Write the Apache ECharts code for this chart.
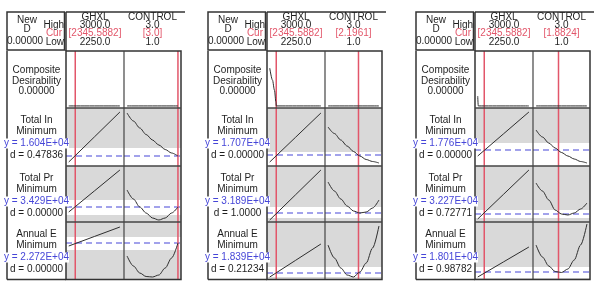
<!DOCTYPE html>
<html>
<head>
<meta charset="utf-8">
<script src="https://cdn.jsdelivr.net/npm/echarts@6/dist/echarts.min.js"></script>
<style>
html, body { margin: 0; padding: 0; background: #fff; }
#chart { width: 599px; height: 284px; }
</style>
</head>
<body>
<div id="chart"></div>
<script>
// factor settings
var factorNames = ['GHXL', 'CONTROL'];
var factorHigh = ['3000.0', '3.0'];
var factorLow = ['2250.0', '1.0'];
var curGHXL = [2345.5882, 2345.5882, 2345.5882];
var curCONTROL = [3.0, 2.1961, 1.8824];
var curGHXLText = ['[2345.5882]', '[2345.5882]', '[2345.5882]'];
var curCONTROLText = ['[3.0]', '[2.1961]', '[1.8824]'];
var compositeD = ['0.00000', '0.00000', '0.00000'];

// responses (rows), one entry per panel
var responseNames = ['Total In', 'Total Pr', 'Annual E'];
var yPred = [[16040, 34290, 22720], [17070, 31890, 18390], [17760, 32270, 18010]];
var yPredText = [['1.604E+04', '3.429E+04', '2.272E+04'], ['1.707E+04', '3.189E+04', '1.839E+04'], ['1.776E+04', '3.227E+04', '1.801E+04']];
var dText = [['0.47836', '0.00000', '0.00000'], ['0.00000', '1.0000', '0.21234'], ['0.00000', '0.72771', '0.98782']];
var yAxisMin = [[15040, 32790, 19120], [15970, 30990, 17790], [16160, 31470, 17310]];
var yAxisMax = [[20840, 38390, 24820], [21770, 36590, 23490], [21960, 37070, 23010]];
var whiteBand = [
  [[15040, 16840], [33490, 34990], [22020, 23320]],
  [[15970, 17370], [31390, 32490], [17990, 18990]],
  [[16160, 18460], [31870, 32670], [17410, 18510]]
];

// curve samples
var ghxlX = [2250, 2625, 3000];
var controlX = [1, 1.25, 1.5, 1.75, 2, 2.25, 2.5, 2.75, 3];
var totalInGHXL = [[15440, 17940, 20440], [16370, 18820, 21270], [17160, 19360, 21560]];
var totalInCONTROL = [
  [20340, 19540, 18840, 18190, 17640, 17140, 16690, 16340, 16040],
  [19870, 19220, 18570, 17970, 17420, 16970, 16620, 16420, 16270],
  [19760, 19060, 18460, 17960, 17510, 17160, 16860, 16610, 16460]
];
var totalPrGHXL = [[33790, 35890, 37990], [31190, 33690, 36190], [31770, 34220, 36670]];
var totalPrCONTROL = [
  [35990, 35090, 34290, 33690, 33190, 32990, 33190, 33690, 34290],
  [34990, 34090, 33290, 32590, 32090, 31890, 31990, 32390, 33190],
  [35370, 34570, 33670, 32670, 32270, 32170, 32370, 32770, 33370]
];
var annualEGHXL = [[22420, 23370, 24320], [17990, 19640, 21290], [17510, 19010, 20510]];
var annualECONTROL = [
  [21420, 20420, 19720, 19370, 19320, 19520, 20220, 21220, 22720],
  [21190, 19890, 18890, 18190, 17990, 18490, 19390, 20890, 23090],
  [20710, 19510, 18610, 18060, 17960, 18310, 19210, 20710, 22810]
];
var compGHXL = [
  [[2250, 0], [3000, 0]],
  [[2250, 0.73], [2290, 0.5], [2320, 0.3], [2340, 0.08], [2346, 0], [3000, 0]],
  [[2250, 0.19], [2258, 0], [3000, 0]]
];
var compCONTROL = [
  [[1, 0], [3, 0]],
  [[1, 0], [3, 0]],
  [[1, 0], [3, 0]]
];

var ghxlCurves = [totalInGHXL, totalPrGHXL, annualEGHXL];
var controlCurves = [totalInCONTROL, totalPrCONTROL, annualECONTROL];

// layout
var panelLeft = [7, 208, 416];
var labelW = 59;
var colW = [58, 57];
var rowTop = [51, 108, 166, 222, 279];
var xRange = [[2210, 3060], [0.88, 3.12]];
var FONT = '"Liberation Sans", Arial, sans-serif';
var RED = '#e2566a';
var BLUE = '#4646d8';

function zip(xs, ys) {
  var out = [];
  for (var i = 0; i < xs.length; i++) out.push([xs[i], ys[i]]);
  return out;
}

var grids = [], xAxes = [], yAxes = [], series = [], graphics = [];

for (var p = 0; p < 3; p++) {
  var L = panelLeft[p];
  var G = L + labelW;
  for (var c = 0; c < 2; c++) {
    var gx = G + (c === 0 ? 0 : colW[0]);
    for (var r = 0; r < 4; r++) {
      var gi = grids.length;
      grids.push({
        left: gx, top: rowTop[r], width: colW[c], height: rowTop[r + 1] - rowTop[r],
        show: r > 0, backgroundColor: '#d9d9d9', borderWidth: 0
      });
      xAxes.push({ gridIndex: gi, type: 'value', min: xRange[c][0], max: xRange[c][1], show: false });
      var pts, ymin, ymax;
      if (r === 0) {
        pts = c === 0 ? compGHXL[p] : compCONTROL[p];
        ymin = -0.04; ymax = 1.06;
      } else {
        pts = c === 0 ? zip(ghxlX, ghxlCurves[r - 1][p]) : zip(controlX, controlCurves[r - 1][p]);
        ymin = yAxisMin[p][r - 1]; ymax = yAxisMax[p][r - 1];
      }
      yAxes.push({ gridIndex: gi, type: 'value', min: ymin, max: ymax, show: false });

      var base = { type: 'line', xAxisIndex: gi, yAxisIndex: gi, silent: true, showSymbol: false };
      if (r > 0) {
        // white band + predicted y (dashed)
        series.push(Object.assign({}, base, {
          data: [[xRange[c][0], yPred[p][r - 1]], [xRange[c][1], yPred[p][r - 1]]], z: 4,
          lineStyle: { color: BLUE, width: 1.2, type: [6, 4] },
          markArea: {
            silent: true, label: { show: false },
            itemStyle: { color: '#ffffff', borderWidth: 0 },
            data: [[{ yAxis: whiteBand[p][r - 1][0] }, { yAxis: whiteBand[p][r - 1][1] }]]
          }
        }));
      }
      // current factor setting
      var cur = c === 0 ? curGHXL[p] : curCONTROL[p];
      series.push(Object.assign({}, base, {
        data: [[cur, ymin], [cur, ymax]], z: 5,
        lineStyle: { color: RED, width: 1.5 }
      }));
      // response curve
      series.push(Object.assign({}, base, {
        data: pts, z: 6,
        smooth: c === 1 || r === 0 ? 0.3 : false, smoothMonotone: 'x',
        lineStyle: { color: '#2e2e2e', width: 1 }
      }));
    }
  }
}

function txt(x, y, s, color, align) {
  return {
    type: 'text', z: 20,
    style: {
      x: x, y: y, text: s, fill: color || '#1e1e1e', font: '10px ' + FONT,
      textAlign: align || 'center', textVerticalAlign: 'middle', align: align || 'center', verticalAlign: 'middle'
    }
  };
}
function ln(x1, y1, x2, y2, w, col) {
  return { type: 'line', z: 15, shape: { x1: x1, y1: y1, x2: x2, y2: y2 }, style: { stroke: col || '#333', lineWidth: w || 1.5 } };
}

for (var p = 0; p < 3; p++) {
  var L = panelLeft[p];
  var G = L + labelW;
  var D = G + colW[0];
  var R = D + colW[1];
  // header box
  graphics.push({ type: 'rect', z: 15, shape: { x: L, y: 12, width: labelW - 1.5, height: 38 }, style: { fill: 'none', stroke: '#333', lineWidth: 1.5 } });
  graphics.push(ln(G, 12, R + 4, 12));
  graphics.push(ln(G, 12, G, 51));
  // label column
  graphics.push(ln(L, 51, L, 279.5));
  graphics.push(ln(L, 279.5, G, 279.5));
  // plot frame
  graphics.push({ type: 'rect', z: 15, shape: { x: G, y: 51, width: R - G, height: 228.5 }, style: { fill: 'none', stroke: '#333', lineWidth: 1.5 } });
  for (var r = 1; r < 4; r++) graphics.push(ln(G, rowTop[r], R, rowTop[r], 1.5, '#444'));
  graphics.push(ln(D, 51, D, 279, 1.2, '#444'));

  // header texts
  graphics.push(txt(L + 20, 20, 'New'));
  graphics.push(txt(L + 20, 29.5, 'D'));
  graphics.push(txt(L + 18, 41.5, compositeD[p]));
  graphics.push(txt(L + 57, 25, 'High', null, 'right'));
  graphics.push(txt(L + 55, 33.5, 'Cur', RED, 'right'));
  graphics.push(txt(L + 57, 42, 'Low', null, 'right'));
  var centers = [G + colW[0] / 2, D + colW[1] / 2];
  var curText = [curGHXLText[p], curCONTROLText[p]];
  for (var c = 0; c < 2; c++) {
    graphics.push(txt(centers[c], 17, factorNames[c]));
    graphics.push(txt(centers[c], 25.5, factorHigh[c]));
    graphics.push(txt(centers[c], 33.5, curText[c], RED));
    graphics.push(txt(centers[c], 42, factorLow[c]));
  }

  // row labels
  var cx = L + labelW / 2;
  graphics.push(txt(cx, 70.5, 'Composite'));
  graphics.push(txt(cx, 81, 'Desirability'));
  graphics.push(txt(cx, 91.5, compositeD[p]));
  for (var r = 1; r < 4; r++) {
    var T = rowTop[r];
    graphics.push(txt(cx, T + 12.5, responseNames[r - 1]));
    graphics.push(txt(cx, T + 23.5, 'Minimum'));
    var yt = txt(cx, T + 35.5, 'y = ' + yPredText[p][r - 1], BLUE);
    yt.style.backgroundColor = '#fff';
    graphics.push(yt);
    graphics.push(txt(cx, T + 47.5, 'd = ' + dText[p][r - 1]));
  }
}

var chart = echarts.init(document.getElementById('chart'));
chart.setOption({
  animation: false,
  grid: grids,
  xAxis: xAxes,
  yAxis: yAxes,
  series: series,
  graphic: { elements: graphics }
});
</script>
</body>
</html>
